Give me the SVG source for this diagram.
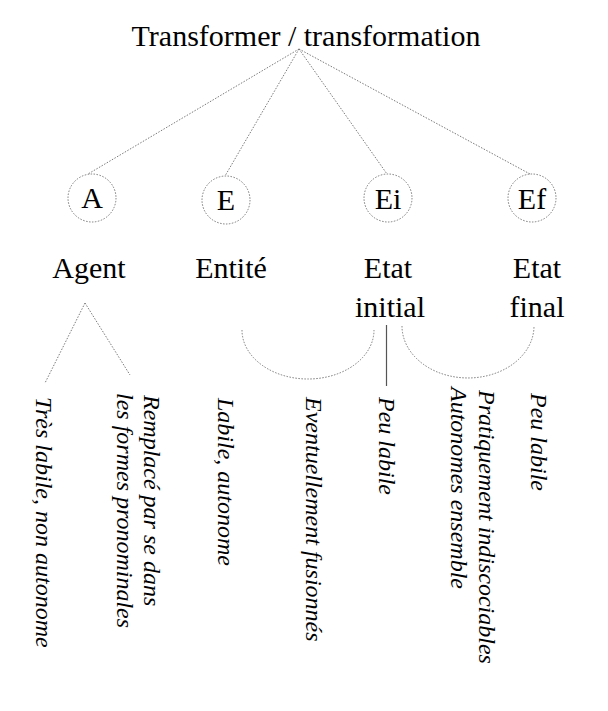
<svg xmlns="http://www.w3.org/2000/svg" width="608" height="711" viewBox="0 0 608 711" font-family="'Liberation Serif', 'DejaVu Serif', serif">
  <style>
    text { font-family: "Liberation Serif", "DejaVu Serif", serif; fill: #000; }
    .title { font-size: 30px; text-anchor: middle; }
    .sym { font-size: 30px; text-anchor: middle; }
    .lbl { font-size: 30px; text-anchor: middle; }
    .note { font-size: 24px; font-style: italic; }
    .dot { fill: none; stroke: #7a7a7a; stroke-width: 1; stroke-dasharray: 1.5 1.5; }
    .solid { fill: none; stroke: #555; stroke-width: 1.2; }
  </style>

  <rect width="608" height="711" fill="#fff"/>

  <g id="title">
    <text class="title" x="306" y="46">Transformer / transformation</text>
  </g>

  <!-- connectors: fan from the title, agent split, fusion arcs, stem -->
  <g id="connectors">
    <line class="dot" x1="299" y1="49" x2="88" y2="174"/>
    <line class="dot" x1="299" y1="49" x2="225" y2="176"/>
    <line class="dot" x1="299" y1="49" x2="387" y2="174"/>
    <line class="dot" x1="299" y1="49" x2="530" y2="174"/>

    <line class="dot" x1="85" y1="303" x2="45" y2="383"/>
    <line class="dot" x1="85" y1="303" x2="130" y2="375"/>

    <path class="dot" d="M242,330 A66,49 0 0 0 374,330"/>
    <path class="dot" d="M402,326 A66,52 0 0 0 534,326"/>

    <line class="solid" x1="386.5" y1="325" x2="386.5" y2="386"/>
  </g>

  <g id="node-A">
    <circle class="dot" cx="92" cy="198" r="24"/>
    <text class="sym" x="92" y="208">A</text>
    <text class="lbl" x="89" y="278">Agent</text>
  </g>

  <g id="node-E">
    <circle class="dot" cx="226" cy="200" r="24"/>
    <text class="sym" x="226" y="210">E</text>
    <text class="lbl" x="231" y="278">Entité</text>
  </g>

  <g id="node-Ei">
    <circle class="dot" cx="388" cy="198" r="24"/>
    <text class="sym" x="388" y="209">Ei</text>
    <text class="lbl" x="388" y="278">Etat</text>
    <text class="lbl" x="390" y="317">initial</text>
  </g>

  <g id="node-Ef">
    <circle class="dot" cx="532" cy="198" r="24"/>
    <text class="sym" x="532" y="209">Ef</text>
    <text class="lbl" x="537" y="278">Etat</text>
    <text class="lbl" x="537" y="317">final</text>
  </g>

  <!-- vertical notes -->
  <g id="notes">
    <text class="note" transform="translate(36,397) rotate(90)">Très labile, non autonome</text>
    <text class="note" transform="translate(144,395) rotate(90)">Remplacé par se dans</text>
    <text class="note" transform="translate(117,393) rotate(90)">les formes pronominales</text>
    <text class="note" transform="translate(218,398) rotate(90)">Labile, autonome</text>
    <text class="note" transform="translate(306,397) rotate(90)">Eventuellement fusionnés</text>
    <text class="note" transform="translate(379,397) rotate(90)">Peu labile</text>
    <text class="note" transform="translate(479,390) rotate(90)">Pratiquement indiscociables</text>
    <text class="note" transform="translate(451,387) rotate(90)">Autonomes ensemble</text>
    <text class="note" transform="translate(531,393) rotate(90)">Peu labile</text>
  </g>
</svg>
